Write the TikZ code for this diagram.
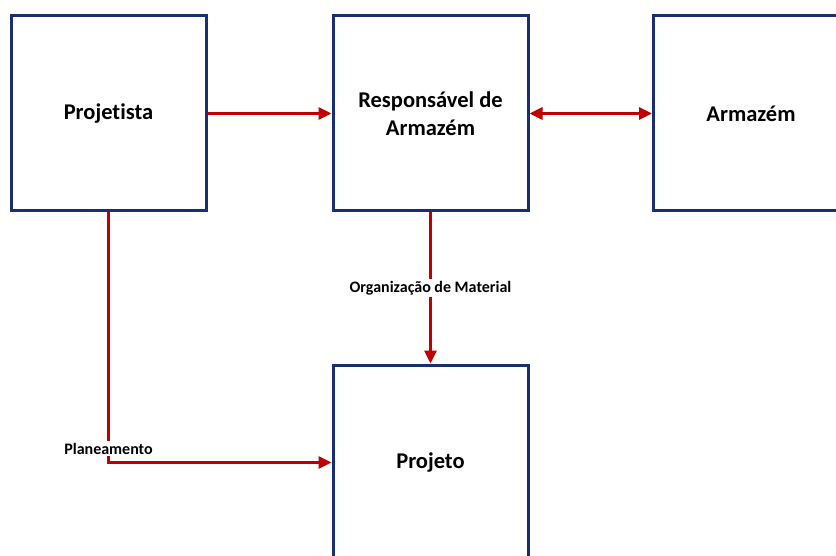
\documentclass[tikz,border=0pt]{standalone}
\usepackage{fontspec}
\setmainfont[Ligatures=NoCommon]{Carlito}
\usetikzlibrary{arrows.meta}
\definecolor{boxblue}{RGB}{24,48,112}
\definecolor{linkred}{RGB}{192,0,0}
\begin{document}
\begin{tikzpicture}[x=1pt,y=1pt,
  block/.style={draw=boxblue, line width=3pt, fill=white, minimum width=195pt,
    minimum height=195pt, inner sep=0pt, align=center,
    font=\fontsize{22.5}{28}\selectfont\bfseries},
  link/.style={draw=linkred, line width=3pt, -{Triangle[length=13pt,width=12pt]}},
  tag/.style={fill=white, inner sep=2pt, font=\fontsize{16}{18}\selectfont\bfseries}]
\clip (0,0) rectangle (836,-556);
\fill[white] (0,0) rectangle (836,-556);
% the four boxes
\node[block] (proj) at (108.5,-113.5) {Projetista};
\node[block] (resp) at (430.5,-113.5) {Responsável de\\Armazém};
\node[block] (arm)  at (751,-113.5) {Armazém};
\node[block] (obra) at (430.5,-462.5) {Projeto};
% connectors
\draw[link] (proj.east) -- (resp.west);
\draw[link, {Triangle[length=13pt,width=12pt]}-{Triangle[length=13pt,width=12pt]}] (resp.east) -- (arm.west);
\draw[link] (resp.south) -- (obra.north) node[tag, midway] {Organização de Material};
\draw[link] (proj.south) |- (obra.west) node[tag, pos=0.472] {Planeamento};
\end{tikzpicture}
\end{document}
